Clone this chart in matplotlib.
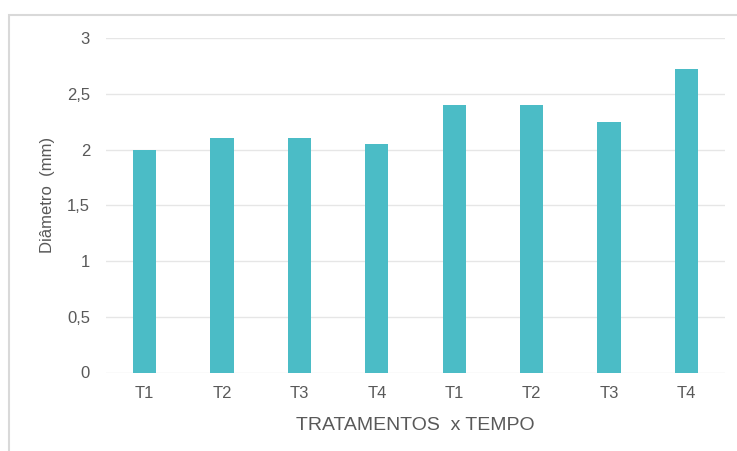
import matplotlib.pyplot as plt
from matplotlib.patches import Rectangle

# dados
categorias = ["T1", "T2", "T3", "T4", "T1", "T2", "T3", "T4"]
diametro = [2.0, 2.1, 2.1, 2.05, 2.4, 2.4, 2.25, 2.72]
yticks = [0, 0.5, 1, 1.5, 2, 2.5, 3]
ylabels = ["0", "0,5", "1", "1,5", "2", "2,5", "3"]

plt.rcParams['font.family'] = ['Liberation Sans', 'DejaVu Sans']
cinza = '#595959'

fig = plt.figure(figsize=(7.37, 4.51), dpi=100)
ax = fig.add_axes([106 / 737, 1 - 372.5 / 451, 619 / 737, 334.5 / 451])

x = range(len(categorias))
ax.bar(x, diametro, width=0.3, color='#4BBCC6', zorder=3)

ax.set_xlim(-0.5, len(categorias) - 0.5)
ax.set_ylim(0, 3)
ax.set_yticks(yticks)
ax.set_yticklabels(ylabels)
ax.set_xticks(list(x))
ax.set_xticklabels(categorias)
ax.grid(axis='y', color='#E6E6E6', linewidth=1, zorder=0)
for s in ax.spines.values():
    s.set_visible(False)
ax.tick_params(length=0, labelsize=12, colors=cinza)
ax.tick_params(axis='x', pad=10)
ax.tick_params(axis='y', pad=11.5)

ax.set_ylabel("Diâmetro  (mm)", fontsize=12, color=cinza)
ax.yaxis.set_label_coords(-0.083, 0.53)
ax.set_xlabel("TRATAMENTOS  x TEMPO", fontsize=14, color=cinza, labelpad=11)

# moldura do gráfico
fig.patches.append(Rectangle((8.5 / 737, -0.1), 1.2, 1 - 14.5 / 451 + 0.1,
                             transform=fig.transFigure, fill=False,
                             edgecolor='#D9D9D9', linewidth=1.5))

fig.savefig("out.png", dpi=100)
